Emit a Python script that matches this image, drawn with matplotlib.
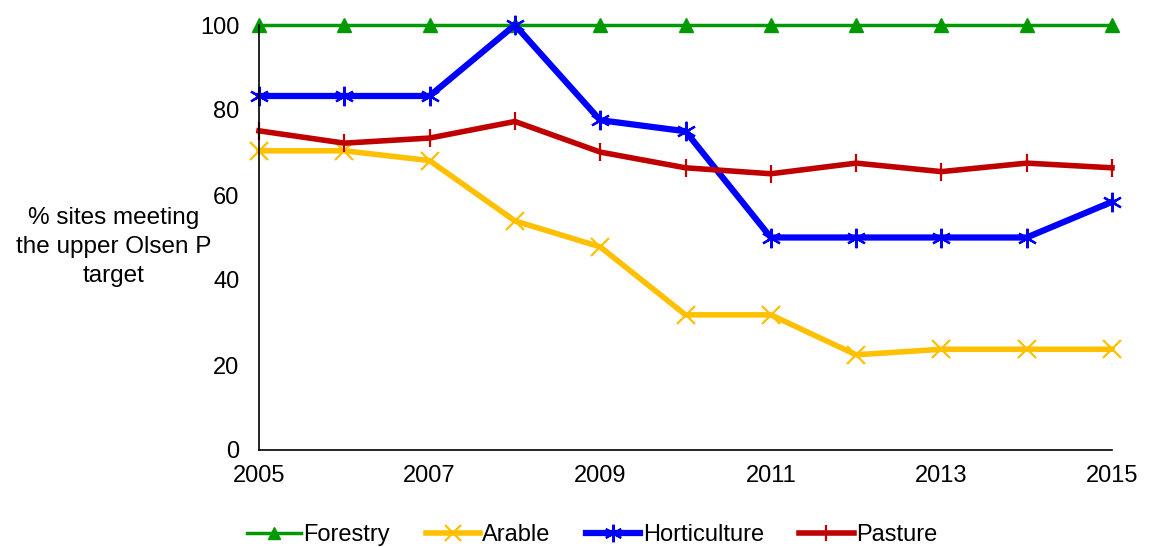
import matplotlib
matplotlib.use("Agg")
import matplotlib.pyplot as plt

plt.rcParams['font.family'] = ['Liberation Sans', 'DejaVu Sans']

years = list(range(2005, 2016))
forestry = [100, 100, 100, 100, 100, 100, 100, 100, 100, 100, 100]
arable = [70.4, 70.4, 68.1, 53.9, 47.8, 31.8, 31.8, 22.4, 23.7, 23.7, 23.7]
horticulture = [83.3, 83.3, 83.3, 100, 77.6, 75.0, 50.0, 50.0, 50.0, 50.0, 58.4]
pasture = [75.1, 72.2, 73.4, 77.3, 70.1, 66.4, 65.0, 67.5, 65.5, 67.5, 66.4]

fig = plt.figure(figsize=(11.5, 5.47), dpi=100)
ax = fig.add_axes([259/1150, 1 - 450/547, (1112-259)/1150, (450-25)/547])

ax.plot(years, forestry, color='#009900', lw=2.5, marker='^', ms=10, label='Forestry', clip_on=False)
ax.plot(years, arable, color='#FFC000', lw=4, marker='x', ms=13, mew=1.6, label='Arable', clip_on=False)
ax.plot(years, horticulture, color='#0000FF', lw=4.5, marker=(6, 2, 0), ms=14, mew=1.6, label='Horticulture', clip_on=False)
ax.plot(years, pasture, color='#C00000', lw=4, marker='|', ms=13, mew=1.6, label='Pasture', clip_on=False)

ax.set_xlim(2005, 2015)
ax.set_ylim(0, 100)
ax.set_yticks([0, 20, 40, 60, 80, 100])
ax.set_xticks([2005, 2007, 2009, 2011, 2013, 2015])
ax.tick_params(length=0, labelsize=17)
ax.tick_params(axis='y', pad=14)
ax.tick_params(axis='x', pad=11)
for s in ['top', 'right']:
    ax.spines[s].set_visible(False)
ax.spines['left'].set_linewidth(1.2)
ax.spines['bottom'].set_linewidth(1.2)

fig.text(114/1150, 1 - 247/547, '% sites meeting\nthe upper Olsen P\ntarget', ha='center', va='center',
         fontsize=17.5, linespacing=1.4)

fig.legend(loc='center', bbox_to_anchor=(592/1150, 1 - 535/547), ncol=4, frameon=False, fontsize=17,
           handlelength=2.3, columnspacing=1.5, handletextpad=0.1, markerscale=0.9)

fig.savefig('out.png', dpi=100)
